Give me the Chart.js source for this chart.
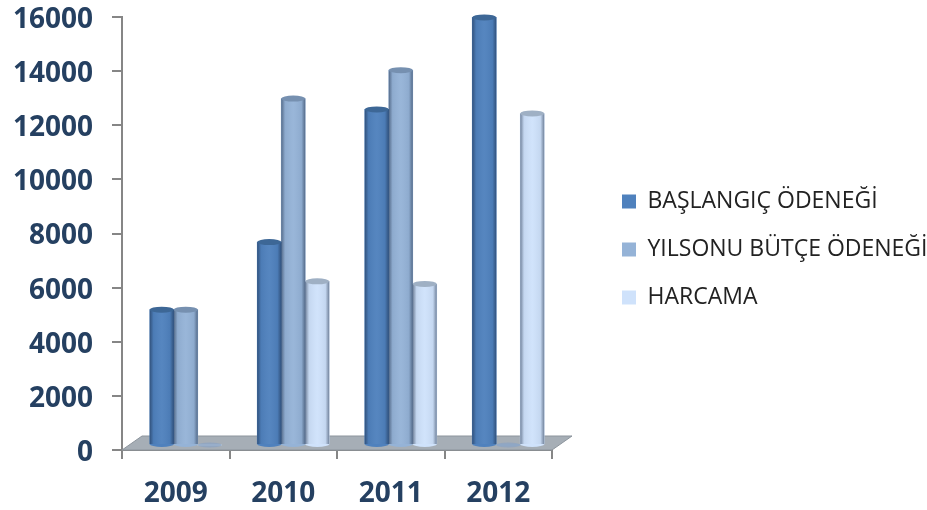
<!DOCTYPE html>
<html lang="tr">
  <head>
    <meta charset="UTF-8" />
    <title>Bütçe</title>
    <script src="https://cdn.jsdelivr.net/npm/chart.js"></script>
    <style>
      html, body { margin: 0; padding: 0; background: #fff; }
      canvas { display: block; }
    </style>
  </head>
  <body>
    <canvas id="my-chart" width="927" height="510"></canvas>
    <script>
      const years = ["2009", "2010", "2011", "2012"];
      const baslangic = [5000, 7500, 12400, 15800];
      const yilsonu = [5000, 12800, 13850, 0];
      const harcama = [0, 6050, 5950, 12250];
      const yTicks = [0, 2000, 4000, 6000, 8000, 10000, 12000, 14000, 16000];

      const textBlue = "#254061";
      const axisGrey = "#868686";
      const depthX = 20; // floor depth of the fake 3D
      const depthY = 14;
      const shiftX = 10; // bars stand in the middle of the floor
      const shiftY = 5;

      // floor under the bars, then shift the bars onto it
      const floorPlugin = {
        id: "floor",
        beforeDatasetsDraw(chart) {
          const { ctx, chartArea: a } = chart;
          ctx.save();
          ctx.beginPath();
          ctx.moveTo(a.left, a.bottom);
          ctx.lineTo(a.left + depthX, a.bottom - depthY);
          ctx.lineTo(a.right + depthX, a.bottom - depthY);
          ctx.lineTo(a.right, a.bottom);
          ctx.closePath();
          ctx.fillStyle = "#a6aeb6";
          ctx.fill();
          ctx.strokeStyle = "#8c949c";
          ctx.lineWidth = 1;
          ctx.stroke();
          ctx.translate(shiftX, -shiftY);
        },
        afterDatasetsDraw(chart) {
          const ctx = chart.ctx;
          chart.data.datasets.forEach((ds, i) => {
            chart.getDatasetMeta(i).data.forEach((bar, j) => {
              const left = bar.x - bar.width / 2;
              const right = bar.x + bar.width / 2;
              const rx = bar.width / 2;
              const ry = 3;
              if (ds.data[j] === 0) {
                ctx.beginPath();
                ctx.ellipse(bar.x, bar.base, rx, ry - 0.5, 0, 0, Math.PI * 2);
                ctx.fillStyle = "rgba(130,160,200,0.55)";
                ctx.fill();
                return;
              }
              // round bottom
              ctx.beginPath();
              ctx.ellipse(bar.x, bar.base, rx, ry, 0, 0, Math.PI);
              ctx.fillStyle = ds.backgroundColor;
              ctx.fill();
              // cylinder shading
              const g = ctx.createLinearGradient(left, 0, right, 0);
              g.addColorStop(0, "rgba(20,35,60,0.5)");
              g.addColorStop(0.16, "rgba(20,35,60,0.06)");
              g.addColorStop(0.5, "rgba(255,255,255,0.04)");
              g.addColorStop(0.84, "rgba(20,35,60,0.06)");
              g.addColorStop(1, "rgba(20,35,60,0.5)");
              ctx.fillStyle = g;
              ctx.fillRect(left, bar.y, bar.width, bar.base - bar.y);
              // top cap
              ctx.beginPath();
              ctx.ellipse(bar.x, bar.y, rx, ry, 0, 0, Math.PI * 2);
              ctx.fillStyle = ds.capColor;
              ctx.fill();
            });
          });
          ctx.restore();
        },
      };

      // legend sits far right of the plot, not in its layout
      const legendPlugin = {
        id: "moveLegend",
        afterLayout(chart) {
          const legend = chart.legend;
          legend.left = 597;
          legend.right = 927;
          legend.top = 165;
          legend.bottom = 340;
        },
      };

      // y labels sit a little lower than their ticks in the original
      const labelNudgePlugin = {
        id: "labelNudge",
        beforeDraw(chart) {
          chart.scales.y.getLabelItems().forEach((item) => {
            if (item.nudged) return;
            item.nudged = true;
            const t = item.options.translation;
            item.options = { ...item.options, translation: [t[0], t[1] + 3] };
          });
        },
      };

      const ctx = document.getElementById("my-chart").getContext("2d");
      new Chart(ctx, {
        type: "bar",
        data: {
          labels: years,
          datasets: [
            { label: "BAŞLANGIÇ ÖDENEĞİ", data: baslangic, backgroundColor: "#4f81bd", capColor: "#3d6796" },
            { label: "YILSONU BÜTÇE ÖDENEĞİ", data: yilsonu, backgroundColor: "#95b3d7", capColor: "#7690b0" },
            { label: "HARCAMA", data: harcama, backgroundColor: "#cfe2fb", capColor: "#9fb0c4" },
          ],
        },
        plugins: [floorPlugin, legendPlugin, labelNudgePlugin],
        options: {
          responsive: false,
          animation: false,
          devicePixelRatio: 1,
          layout: { padding: { top: 17, right: 375, left: 0, bottom: 0 } },
          datasets: { bar: { barThickness: 24, clip: false } },
          plugins: {
            tooltip: { enabled: false },
            legend: {
              position: "chartArea",
              align: "start",
              labels: {
                boxWidth: 14,
                boxHeight: 14,
                padding: 25,
                color: "#222222",
                font: { family: "Open Sans", size: 23 },
              },
            },
          },
          scales: {
            x: {
              afterFit(scale) {
                scale.height = 60;
                scale.paddingLeft = 0;
                scale.paddingRight = 0;
              },
              border: { color: axisGrey, width: 2 },
              grid: { drawOnChartArea: false, offset: true, color: axisGrey, lineWidth: 2, tickLength: 9 },
              ticks: {
                color: textBlue,
                padding: 18,
                maxRotation: 0,
                font: { family: "Open Sans", size: 28, weight: "bold" },
              },
            },
            y: {
              min: 0,
              max: 16000,
              afterFit(scale) {
                scale.width = 122;
                scale.paddingTop = 0;
                scale.paddingBottom = 0;
              },
              afterBuildTicks(scale) { scale.ticks = yTicks.map((v) => ({ value: v })); },
              border: { color: axisGrey, width: 2 },
              grid: { drawOnChartArea: false, color: axisGrey, lineWidth: 2, tickLength: 10 },
              ticks: {
                color: textBlue,
                padding: 19,
                callback: (v) => String(v),
                font: { family: "Open Sans", size: 28, weight: "bold" },
              },
            },
          },
        },
      });
    </script>
  </body>
</html>
